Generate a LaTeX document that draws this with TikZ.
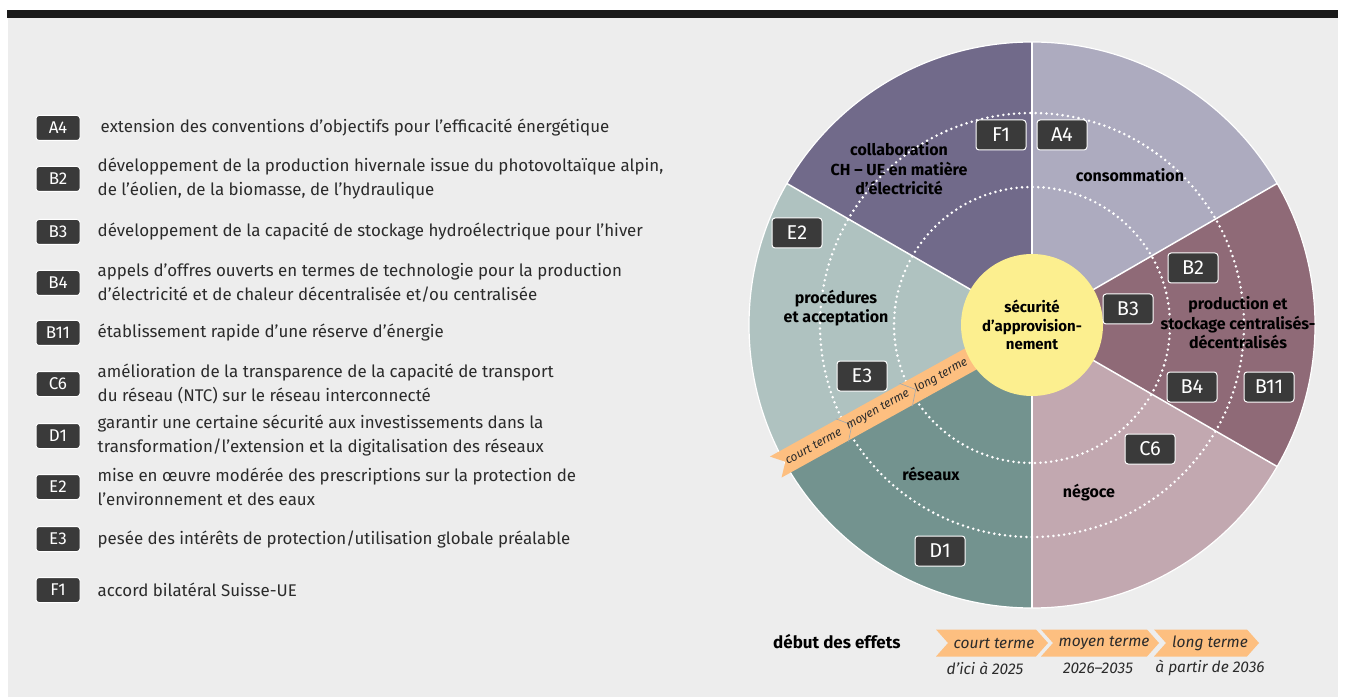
\documentclass[tikz,border=0pt]{standalone}
\usepackage{fontspec}
\setmainfont{Fira Sans}
\usetikzlibrary{positioning}

\definecolor{bggray}{HTML}{EDEDED}
\definecolor{barblack}{HTML}{1A1A1A}
\definecolor{conso}{HTML}{ADABBF}
\definecolor{prod}{HTML}{8F6A77}
\definecolor{negoce}{HTML}{C2A8B0}
\definecolor{reseau}{HTML}{73938F}
\definecolor{proced}{HTML}{AFC2C0}
\definecolor{collab}{HTML}{716A8A}
\definecolor{secu}{HTML}{FCEF8F}
\definecolor{terme}{HTML}{FDBF80}
\definecolor{badgegray}{HTML}{3A3A3A}
\definecolor{txtgray}{HTML}{2B2B2B}
\definecolor{jointgray}{HTML}{9FA9B0}

\tikzset{
  badge/.style={draw=white, line width=1pt, fill=badgegray, rounded corners=3pt, text=white,
    minimum width=50pt, minimum height=30pt, inner sep=0pt, font=\fontsize{20}{20}\selectfont},
  keybadge/.style={badge, minimum width=44pt, minimum height=25pt, font=\fontsize{17}{17}\selectfont},
  keytext/.style={anchor=west, align=left, inner sep=0pt, text=txtgray, font=\fontsize{16.9}{24}\selectfont},
  sectorlabel/.style={align=center, inner sep=0pt, text=black, font=\bfseries\fontsize{16}{19.5}\selectfont},
  bandtext/.style={rotate=29, inner sep=0pt, text=txtgray, font=\itshape\fontsize{12}{12}\selectfont},
  termtext/.style={inner sep=0pt, text=txtgray, font=\itshape\fontsize{15.5}{15.5}\selectfont},
  dots/.style={white, line width=2.8pt, line cap=round, dash pattern=on 0pt off 5.4pt}
}

\begin{document}
\begin{tikzpicture}[x=1pt, y=1pt]

\def\cx{1032}
\def\cy{372}
\def\rad{283pt}
\def\rout{212pt}
\def\rin{138pt}

\useasboundingbox (0,0) rectangle (1346,697);
\fill[white] (0,0) rectangle (1346,697);

% FRAME
\fill[bggray] (8,0) rectangle (1338,680);
\fill[barblack] (7,679) rectangle (1338,687);

% SECTORS
\fill[conso] (\cx,\cy) -- +(30:\rad) arc (30:90:\rad) -- cycle;
\fill[collab] (\cx,\cy) -- +(90:\rad) arc (90:150:\rad) -- cycle;
\fill[proced] (\cx,\cy) -- +(150:\rad) arc (150:210:\rad) -- cycle;
\fill[reseau] (\cx,\cy) -- +(210:\rad) arc (210:270:\rad) -- cycle;
\fill[negoce] (\cx,\cy) -- +(270:\rad) arc (270:330:\rad) -- cycle;
\fill[prod] (\cx,\cy) -- +(-30:\rad) arc (-30:30:\rad) -- cycle;

% RINGS
\draw[dots] (\cx,\cy) circle (\rout);
\draw[dots] (\cx,\cy) circle (\rin);
\foreach \a in {30,90,150,210,270,330}
  \draw[white, line width=1.5pt] (\cx,\cy) -- +(\a:\rad);
\draw[white, line width=1.2pt] (\cx,\cy) circle (\rad);

% BAND
\begin{scope}[shift={(\cx,\cy)}, rotate=29]
  \fill[terme] (-293,12) -- (-55,12) -- (-55,-12) -- (-293,-12) -- (-282,0) -- cycle;
  \draw[jointgray, line width=0.6pt] (-217,13) -- (-206,0) -- (-217,-13);
  \draw[jointgray, line width=0.6pt] (-144,13) -- (-133,0) -- (-144,-13);
  \node[bandtext] (bcourt) at (-250,0) {court terme};
  \node[bandtext] (bmoyen) at (-176,0) {moyen terme};
  \node[bandtext] (blong) at (-104,0) {long terme};
\end{scope}

% CENTRE
\node[circle, fill=secu, minimum size=142pt, inner sep=0pt, align=center,
  font=\bfseries\fontsize{15}{18.5}\selectfont] (secu) at (\cx,\cy) {sécurité\\d'approvision-\\nement};

% SECTOR LABELS
\node[sectorlabel] (lconso) at (1130,522) {consommation};
\node[sectorlabel] (lprod) at (1238,374) {production et\\stockage centralisés-\\décentralisés};
\node[sectorlabel] (lnegoce) at (1089,204) {négoce};
\node[sectorlabel] (lreseau) at (931,223) {réseaux};
\node[sectorlabel] (lproced) at (836,389) {procédures\\et acceptation};
\node[sectorlabel] (lcollab) at (899,528) {collaboration\\CH – UE en matière\\d'électricité};

% BADGES
\node[badge] (bF1) at (1001,562) {F1};
\node[badge] (bA4) at (1062,562) {A4};
\node[badge] (bE2) at (797,464) {E2};
\node[badge] (bB2) at (1193,429) {B2};
\node[badge] (bB3) at (1128,388) {B3};
\node[badge] (bE3) at (862,321) {E3};
\node[badge] (bB4) at (1192,310) {B4};
\node[badge] (bB11) at (1269,310) {B11};
\node[badge] (bC6) at (1150,248) {C6};
\node[badge] (bD1) at (940,146) {D1};

% LEGEND
\node[keybadge] (kA4) at (58,569) {A4};
\node[keytext, right=20pt of kA4] (tA4) {extension des conventions d'objectifs pour l'efficacité énergétique};
\node[keybadge] (kB2) at (58,518) {B2};
\node[keytext, right=17pt of kB2] (tB2) {développement de la production hivernale issue du photovoltaïque alpin,\\de l'éolien, de la biomasse, de l'hydraulique};
\node[keybadge] (kB3) at (58,465) {B3};
\node[keytext, right=17pt of kB3] (tB3) {développement de la capacité de stockage hydroélectrique pour l'hiver};
\node[keybadge] (kB4) at (58,414) {B4};
\node[keytext, right=17pt of kB4] (tB4) {appels d'offres ouverts en termes de technologie pour la production\\d'électricité et de chaleur décentralisée et/ou centralisée};
\node[keybadge] (kB11) at (58,364) {B11};
\node[keytext, right=17pt of kB11] (tB11) {établissement rapide d'une réserve d'énergie};
\node[keybadge] (kC6) at (58,313) {C6};
\node[keytext, right=17pt of kC6] (tC6) {amélioration de la transparence de la capacité de transport\\du réseau (NTC) sur le réseau interconnecté};
\node[keybadge] (kD1) at (58,261) {D1};
\node[keytext, right=17pt of kD1] (tD1) {garantir une certaine sécurité aux investissements dans la\\transformation/l'extension et la digitalisation des réseaux};
\node[keybadge] (kE2) at (58,210) {E2};
\node[keytext, right=17pt of kE2] (tE2) {mise en œuvre modérée des prescriptions sur la protection de\\l'environnement et des eaux};
\node[keybadge] (kE3) at (58,158) {E3};
\node[keytext, right=17pt of kE3] (tE3) {pesée des intérêts de protection/utilisation globale préalable};
\node[keybadge] (kF1) at (58,107) {F1};
\node[keytext, right=17pt of kF1] (tF1) {accord bilatéral Suisse-UE};

% TIMELINE
\node[anchor=west, inner sep=0pt, font=\bfseries\fontsize{17}{17}\selectfont] (effets) at (773,55) {début des effets};
\fill[terme] (936,67.5) -- (1036,67.5) -- (1048,54) -- (1036,40.5) -- (936,40.5) -- (948,54) -- cycle;
\fill[terme] (1041,67.5) -- (1147,67.5) -- (1159,54) -- (1147,40.5) -- (1041,40.5) -- (1053,54) -- cycle;
\fill[terme] (1154,67.5) -- (1247,67.5) -- (1259,54) -- (1247,40.5) -- (1154,40.5) -- (1166,54) -- cycle;
\node[termtext] (tcourt) at (994,54) {court terme};
\node[termtext] (tmoyen) at (1104,54) {moyen terme};
\node[termtext] (tlong) at (1210,54) {long terme};
\node[termtext] (dcourt) at (985,29) {d'ici à 2025};
\node[termtext] (dmoyen) at (1098,29) {2026–2035};
\node[termtext] (dlong) at (1210,29) {à partir de 2036};

\end{tikzpicture}
\end{document}
